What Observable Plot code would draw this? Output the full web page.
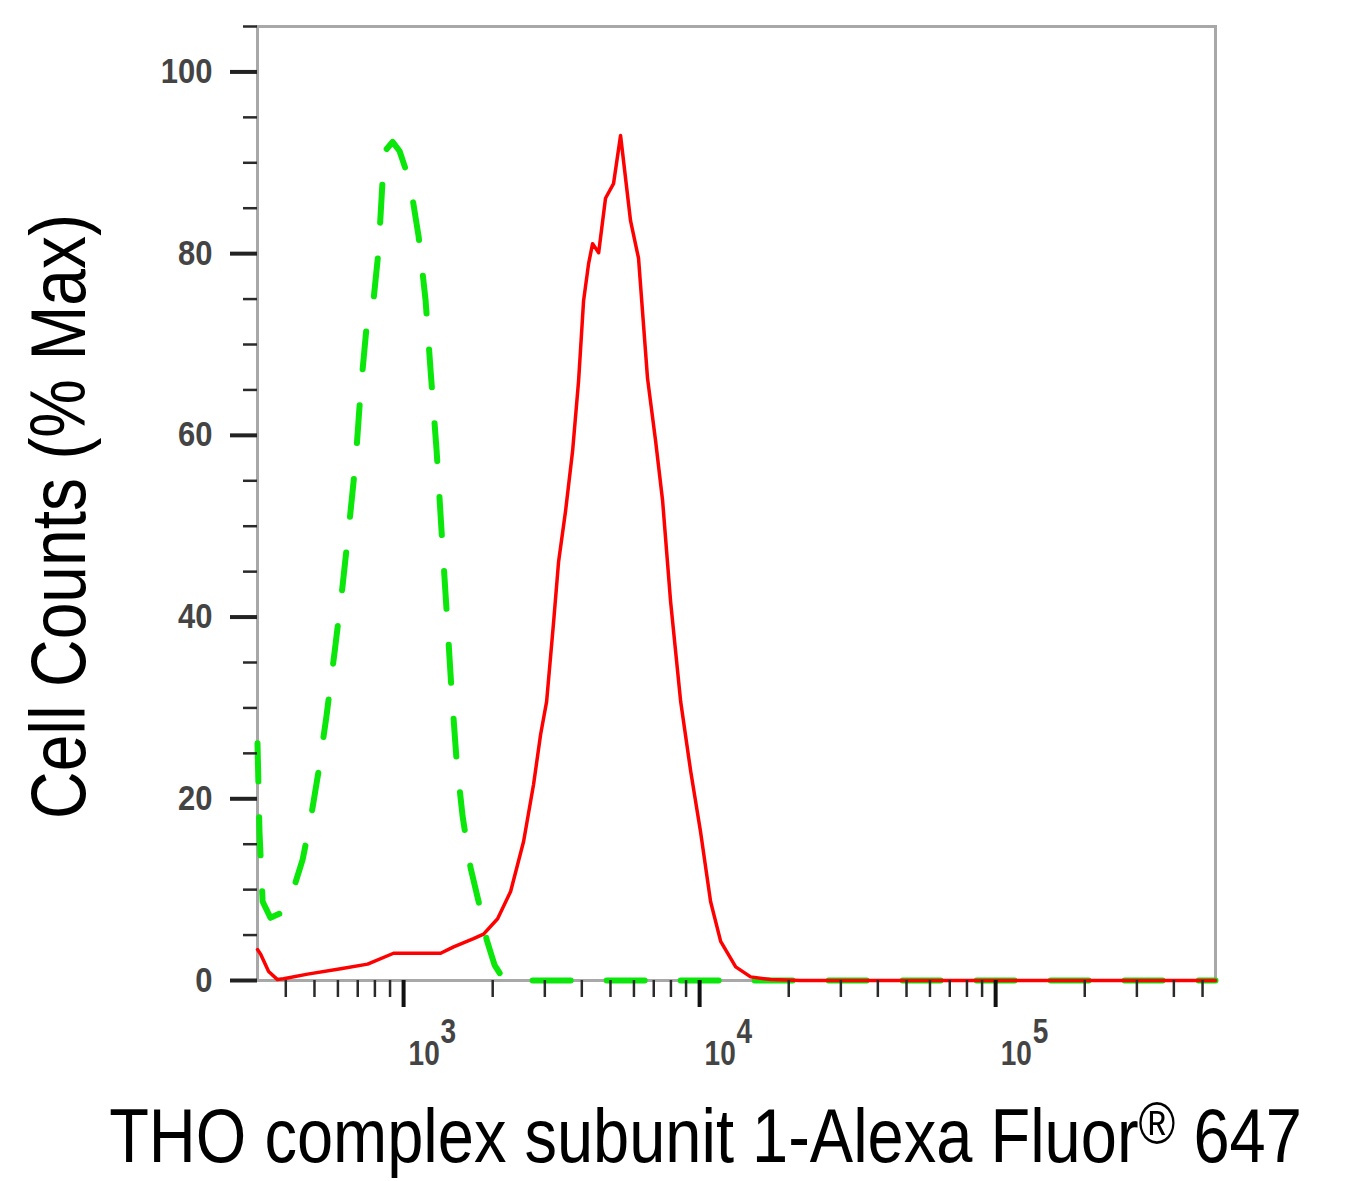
<!DOCTYPE html>
<html><head><meta charset="utf-8">
<script src="https://cdn.jsdelivr.net/npm/d3@7"></script>
<script src="https://cdn.jsdelivr.net/npm/@observablehq/plot@0.6"></script>
<style>body{margin:0;background:#fff;} #chart svg{display:block;}</style>
</head><body><div id="chart"></div>
<script>
// ---- data ----
const xDomain = [321, 553000];
const yDomain = [0, 105];
const xMajorTicks = [1e3, 1e4, 1e5];
const xExponents = ["3", "4", "5"];
const xMinorTicks = [400, 500, 600, 700, 800, 900,
  2000, 3000, 4000, 5000, 6000, 7000, 8000, 9000,
  20000, 30000, 40000, 50000, 60000, 70000, 80000, 90000,
  200000, 300000, 400000, 500000];
const yMajorTicks = [0, 20, 40, 60, 80, 100];
const yMinorTicks = [5, 10, 15, 25, 30, 35, 45, 50, 55, 65, 70, 75, 85, 90, 95, 105];

const yTitle = "Cell Counts (% Max)";
const xTitle = "THO complex subunit 1-Alexa Fluor® 647";

// isotype control (green dashed)
const greenX = [321,326,334,355,384,422,456,485,516,549,585,622,657,689,716,750,792,823,849,876,
  918,969,1016,1056,1124,1187,1234,1293,1344,1398,1453,1511,1582,1684,1792,1908,2030,2160,2299,553000];
const greenY = [26.1,16.4,8.7,6.9,7.4,9.8,13.3,17.7,23.0,29.1,36.2,43.4,50.6,57.2,64.9,72.0,75.0,80.3,88.0,91.5,
  92.3,91.3,89.3,87.4,81.9,74.8,67.1,58.3,49.4,40.6,31.8,24.1,18.1,12.4,8.7,4.5,1.7,0.3,0,0];

// antibody stained (red solid)
const redX = [321,329,350,375,393,474,613,756,925,1334,1476,1723,1863,2078,2299,2543,2749,2904,3042,3213,
  3339,3526,3724,3901,4055,4217,4350,4560,4810,5119,5407,5845,6218,6668,7100,7499,7980,8630,9333,10070,
  10890,11780,13240,14870,17380,21930,553000];
const redY = [3.4,2.9,1.0,0.1,0.2,0.7,1.3,1.8,3.0,3.0,3.7,4.6,5.1,6.8,9.8,15.3,21.6,27.1,30.7,39.5,
  46.1,51.7,58.3,66.0,74.8,78.9,81.1,80.1,86.1,87.7,93.0,83.6,79.5,66.3,59.4,52.8,41.7,30.7,23.0,16.4,
  8.7,4.3,1.5,0.4,0.1,0,0];

const greenRows = greenX.map((x, i) => ({x, y: greenY[i]}));
const redRows = redX.map((x, i) => ({x, y: redY[i]}));

const tickFill = "#444";
const chart = Plot.plot({
  width: 1351, height: 1181,
  marginLeft: 257, marginRight: 136, marginTop: 26, marginBottom: 201,
  style: {fontFamily: "'Liberation Sans', Arial, sans-serif", background: "#fff"},
  x: {type: "log", domain: xDomain},
  y: {domain: yDomain},
  marks: [
    Plot.frame({stroke: "#a8a8a8", strokeWidth: 3}),
    Plot.line(greenRows, {x: "x", y: "y", stroke: "#0be60b", strokeWidth: 6, strokeDasharray: "38,36"}),
    Plot.line(redRows, {x: "x", y: "y", stroke: "#ff0000", strokeWidth: 3.5}),
    Plot.axisY(yMinorTicks, {tickSize: 14, strokeWidth: 2.5, stroke: "#2a2a2a", tickFormat: () => "", label: null}),
    Plot.axisY(yMajorTicks, {tickSize: 27, strokeWidth: 4, stroke: "#222", tickPadding: 18,
      fontSize: 31, fontWeight: "bold", fill: tickFill, label: null}),
    Plot.axisX(xMinorTicks, {tickSize: 17, strokeWidth: 2.5, stroke: "#2a2a2a", tickFormat: () => "", label: null}),
    Plot.axisX(xMajorTicks, {tickSize: 27, strokeWidth: 4, stroke: "#111", tickFormat: () => "", label: null}),
    Plot.text(xMajorTicks, {x: d => d, text: () => "10", frameAnchor: "bottom", dx: 5, dy: 84,
      textAnchor: "start", lineAnchor: "bottom", fontSize: 28, fontWeight: "bold", fill: tickFill}),
    Plot.text(xMajorTicks, {x: d => d, text: (d, i) => xExponents[i], frameAnchor: "bottom", dx: 37, dy: 62,
      textAnchor: "start", lineAnchor: "bottom", fontSize: 28, fontWeight: "bold", fill: tickFill}),
    Plot.text([yTitle], {text: d => d, frameAnchor: "left", rotate: -90, dx: -173, dy: 13,
      textAnchor: "middle", fontSize: 66, lineAnchor: "bottom", fill: "#000"}),
    Plot.text([xTitle], {text: d => d, frameAnchor: "bottom", dx: -31, dy: 181,
      textAnchor: "middle", fontSize: 65, lineAnchor: "bottom", fill: "#000"})
  ]
});
document.getElementById("chart").appendChild(chart);

const root = d3.select(chart);
const isNum = v => v != null && v !== "" && !/em$/.test(v) && !isNaN(parseFloat(v));
function stretch(el, k) {
  const t = el.getAttribute("transform");
  if (t) { el.setAttribute("transform", t + ` scale(1,${k})`); return; }
  const x = el.getAttribute("x"), y = el.getAttribute("y");
  const tx = isNum(x) ? parseFloat(x) : 0, ty = isNum(y) ? parseFloat(y) : 0;
  if (isNum(x)) el.removeAttribute("x");
  if (isNum(y)) el.removeAttribute("y");
  el.setAttribute("transform", `translate(${tx},${ty}) scale(1,${k})`);
}
const yLabelSet = new Set(yMajorTicks.map(String));
const expSet = new Set(xExponents);
root.selectAll("text").each(function () {
  const s = this.textContent;
  if (s === xTitle) {
    const parts = xTitle.split("®");
    const xt = d3.select(this);
    xt.text(null);
    xt.append("tspan").text(parts[0]);
    xt.append("tspan").attr("font-size", 50).attr("dy", -15).text("®");
    xt.append("tspan").attr("dy", 15).text(parts[1]);
    stretch(this, 1.18);
  } else if (s === yTitle) {
    stretch(this, 1.18);
  } else if (s === "10" || expSet.has(s)) {
    stretch(this, 1.22);
  } else if (yLabelSet.has(s)) {
    stretch(this, 1.12);
  }
});
</script>
</body></html>
